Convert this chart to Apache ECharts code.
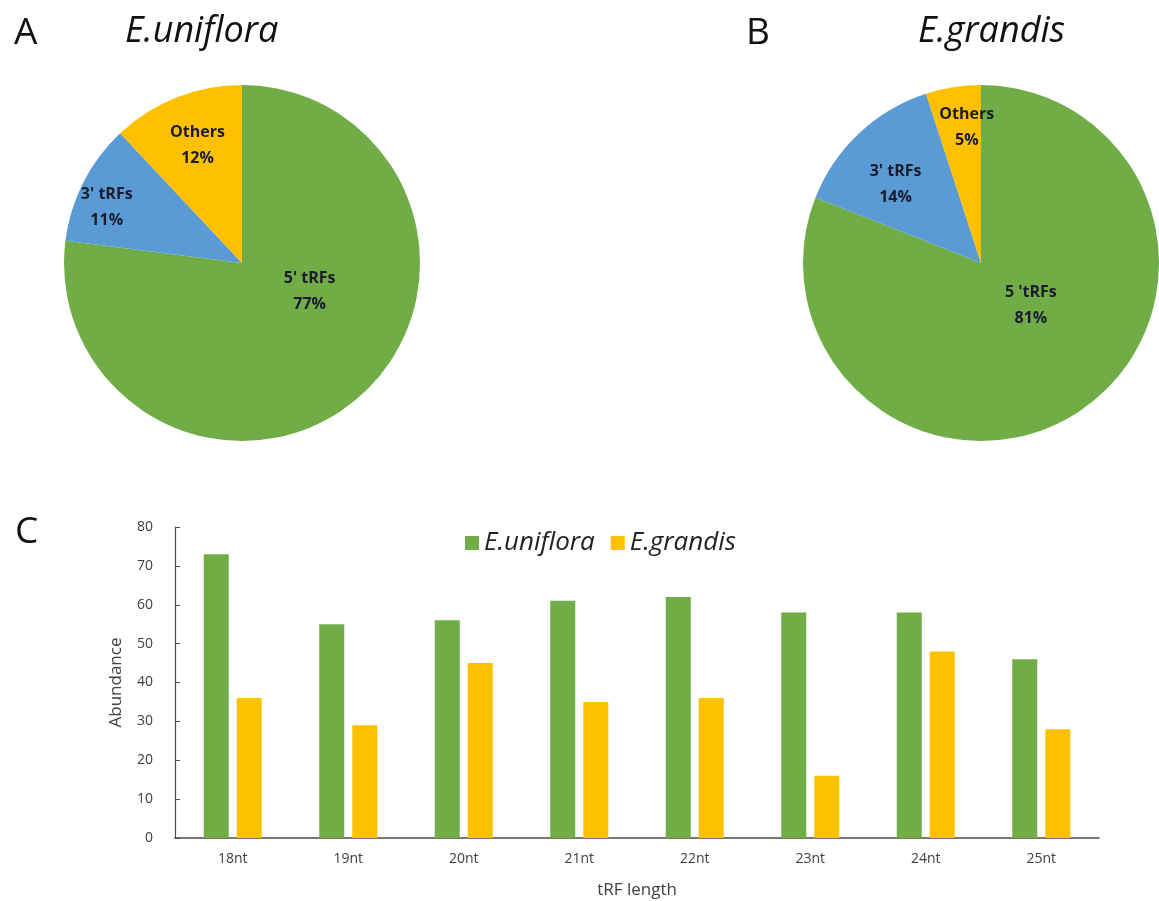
<!DOCTYPE html>
<html>
<head>
<meta charset="utf-8">
<title>tRF composition and length</title>
<script src="https://cdn.jsdelivr.net/npm/echarts@6/dist/echarts.min.js"></script>
<style>
  html, body { margin: 0; padding: 0; background: #fff; }
  #chart { width: 1159px; height: 901px; }
</style>
</head>
<body>
<div id="chart"></div>
<script>
// pie data (percent)
var pieLabelsA = ["5' tRFs", "3' tRFs", 'Others']
var pieValuesA = [77, 11, 12]
var pieLabelsB = ["5 'tRFs", "3' tRFs", 'Others']
var pieValuesB = [81, 14, 5]

// bar data
var lengths = ['18nt', '19nt', '20nt', '21nt', '22nt', '23nt', '24nt', '25nt']
var uniflora = [73, 55, 56, 61, 62, 58, 58, 46]
var grandis = [36, 29, 45, 35, 36, 16, 48, 28]
var yTicks = [0, 10, 20, 30, 40, 50, 60, 70, 80]

var GREEN = '#70ad47'
var BLUE = '#5b9bd5'
var YELLOW = '#ffc000'
var FONT = '"Open Sans", Lato, sans-serif'

var pieR = 178
var pieCenters = [[242, 263], [981, 263]]
// label centre offsets in units of radius, same order as the data
var labelSpots = [
  [[0.38, 0.16], [-0.76, -0.31], [-0.25, -0.66]],
  [[0.28, 0.24], [-0.48, -0.44], [-0.08, -0.76]]
]

function pieData(names, values) {
  var colors = [GREEN, BLUE, YELLOW]
  return names.map(function(n, i) {
    return { name: n, value: values[i], itemStyle: { color: colors[i] } }
  })
}

function pieSeries(idx, names, values) {
  return {
    type: 'pie',
    center: pieCenters[idx],
    radius: pieR,
    startAngle: 90,
    clockwise: true,
    silent: true,
    animation: false,
    data: pieData(names, values),
    label: {
      show: true,
      position: 'inside',
      formatter: '{b}\n{d}%',
      color: '#1b1b2b',
      fontFamily: FONT,
      fontWeight: 'bold',
      fontSize: 16,
      lineHeight: 26
    },
    labelLayout: function(p) {
      var s = labelSpots[idx][p.dataIndex]
      return {
        x: pieCenters[idx][0] + s[0] * pieR,
        y: pieCenters[idx][1] + s[1] * pieR,
        align: 'center',
        verticalAlign: 'middle'
      }
    }
  }
}

var chart = echarts.init(document.getElementById('chart'))

var bigLetter = { fontFamily: FONT, fontSize: 37, fontWeight: 'normal', color: '#111' }
var speciesTitle = { fontFamily: FONT, fontSize: 36, fontStyle: 'italic', fontWeight: 'normal', color: '#111' }

chart.setOption({
  backgroundColor: '#fff',
  animation: false,
  title: [
    { text: 'A', left: 9, top: 10, textStyle: bigLetter },
    { text: 'E.uniflora', left: 120, top: 9, textStyle: speciesTitle },
    { text: 'B', left: 741, top: 10, textStyle: bigLetter },
    { text: 'E.grandis', left: 913, top: 9, textStyle: speciesTitle },
    { text: 'C', left: 10, top: 509, textStyle: bigLetter }
  ],
  legend: {
    data: ['E.uniflora', 'E.grandis'],
    left: 460,
    top: 525,
    icon: 'rect',
    itemWidth: 14,
    itemHeight: 14,
    itemGap: 16,
    textStyle: { fontFamily: FONT, fontSize: 26, fontStyle: 'italic', color: '#222' }
  },
  grid: {
    left: 175,
    right: 60,
    top: 527,
    bottom: 63
  },
  xAxis: {
    type: 'category',
    data: lengths,
    name: 'tRF length',
    nameLocation: 'middle',
    nameGap: 44,
    nameTextStyle: { fontFamily: FONT, fontSize: 17, color: '#404040' },
    axisLine: { lineStyle: { color: '#4a4a4a', width: 1.5 } },
    axisTick: { show: false },
    axisLabel: { fontFamily: FONT, fontSize: 14, color: '#404040', margin: 14 }
  },
  yAxis: {
    type: 'value',
    min: yTicks[0],
    max: yTicks[yTicks.length - 1],
    interval: yTicks[1] - yTicks[0],
    name: 'Abundance',
    nameLocation: 'middle',
    nameGap: 50,
    nameTextStyle: { fontFamily: FONT, fontSize: 17, color: '#404040' },
    axisLine: { show: true, lineStyle: { color: '#4a4a4a', width: 1.2 } },
    axisTick: { show: true, inside: true, length: 5, lineStyle: { color: '#4a4a4a' } },
    axisLabel: { fontFamily: FONT, fontSize: 14, color: '#404040', margin: 22 },
    splitLine: { show: false }
  },
  series: [
    pieSeries(0, pieLabelsA, pieValuesA),
    pieSeries(1, pieLabelsB, pieValuesB),
    {
      name: 'E.uniflora',
      type: 'bar',
      data: uniflora,
      barWidth: 25,
      barGap: '32%',
      itemStyle: { color: GREEN }
    },
    {
      name: 'E.grandis',
      type: 'bar',
      data: grandis,
      barWidth: 25,
      barGap: '32%',
      itemStyle: { color: YELLOW }
    }
  ]
})
</script>
</body>
</html>
